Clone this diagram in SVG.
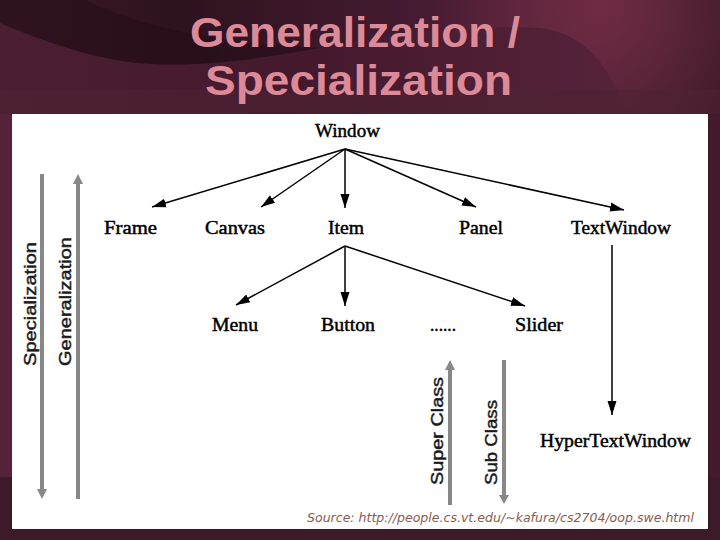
<svg xmlns="http://www.w3.org/2000/svg" width="720" height="540" viewBox="0 0 720 540">
<style>
.n{font-family:"Liberation Serif",serif;font-size:18px;fill:#000;stroke:#000;stroke-width:.45px}
.s{font-family:"Liberation Sans",sans-serif;font-size:17px;fill:#1a1a1a;stroke:#1a1a1a;stroke-width:.45px}
.t{font-family:"Liberation Sans",sans-serif;font-size:42px;font-weight:bold;fill:#dc8a97}
.a{stroke:#000;fill:none;stroke-width:1.5;marker-end:url(#b)}
.g{stroke:#888;stroke-width:4;fill:none}
</style>
<defs>
<marker id="b" markerUnits="userSpaceOnUse" markerWidth="16" markerHeight="12" refX="14" refY="5" orient="auto"><path d="M0 .5L14 5L0 9.5Z" fill="#000"/></marker>
<linearGradient id="bg" x1="0" y1="0" x2="1" y2="0"><stop offset="0" stop-color="#3a1826"/><stop offset=".25" stop-color="#2e121f"/><stop offset=".75" stop-color="#50203a"/><stop offset="1" stop-color="#3c1828"/></linearGradient>
<linearGradient id="sw" x1="0" y1="0" x2="1" y2="0"><stop offset="0" stop-color="#4a1f33"/><stop offset=".5" stop-color="#44192e"/><stop offset="1" stop-color="#57233b"/></linearGradient>
<radialGradient id="glow" cx="600" cy="10" r="170" gradientUnits="userSpaceOnUse"><stop offset="0" stop-color="#6f2c44"/><stop offset="1" stop-color="#6f2c44" stop-opacity="0"/></radialGradient>
</defs>
<rect width="720" height="540" fill="url(#bg)"/>
<rect width="720" height="130" fill="url(#glow)"/>
<path d="M0 23C40 40 90 58 138 63C200 68 250 60 320 48C400 32 470 25 541 28C592 35 620 75 640 160L0 160Z" fill="url(#sw)"/>
<path d="M0 23C40 40 90 58 138 63C200 68 250 60 320 48C260 44 170 40 85 0L0 0Z" fill="#1e0a13" opacity=".35"/>
<rect y="90" width="720" height="24" fill="#4f2233" opacity=".55"/>
<rect y="114" width="720" height="426" fill="#3c1a2a"/>
<rect y="114" width="12" height="363" fill="#56233c"/>
<rect x="708" y="114" width="12" height="363" fill="#43192c"/>
<rect x="12" y="114" width="696" height="415" fill="#fff"/>
<g id="title"><text class="t" x="190" y="47" textLength="330" lengthAdjust="spacingAndGlyphs">Generalization /</text><text class="t" x="205" y="95" textLength="307" lengthAdjust="spacingAndGlyphs">Specialization</text></g>
<g id="connectors">
<path class="a" d="M345 149L152 207"/>
<path class="a" d="M345 149L261 207"/>
<path class="a" d="M345 149V208"/>
<path class="a" d="M345 149L476 207"/>
<path class="a" d="M345 149L624 210"/>
<path class="a" d="M345 246L236 305"/>
<path class="a" d="M345 246V306"/>
<path class="a" d="M345 246L525 306"/>
<path class="a" d="M612 245V415"/>
</g>
<g id="gen-arrows">
<path class="g" d="M42 174V490"/><path d="M37 489H47L42 499Z" fill="#888"/>
<path class="g" d="M78 184V499"/><path d="M73 184H83L78 174Z" fill="#888"/>
<path class="g" d="M450 370V505"/><path d="M445 370H455L450 360Z" fill="#888"/>
<path class="g" d="M504 360V496"/><path d="M499 495H509L504 504Z" fill="#888"/>
</g>
<g id="window"><text class="n" x="315" y="137" textLength="65" lengthAdjust="spacingAndGlyphs">Window</text></g>
<g id="frame"><text class="n" x="104" y="234" textLength="53" lengthAdjust="spacingAndGlyphs">Frame</text></g>
<g id="canvas"><text class="n" x="205" y="234" textLength="60" lengthAdjust="spacingAndGlyphs">Canvas</text></g>
<g id="item"><text class="n" x="328" y="234" textLength="36" lengthAdjust="spacingAndGlyphs">Item</text></g>
<g id="panel"><text class="n" x="459" y="234" textLength="44" lengthAdjust="spacingAndGlyphs">Panel</text></g>
<g id="textwindow"><text class="n" x="571" y="234" textLength="100" lengthAdjust="spacingAndGlyphs">TextWindow</text></g>
<g id="menu"><text class="n" x="212" y="331" textLength="46" lengthAdjust="spacingAndGlyphs">Menu</text></g>
<g id="button"><text class="n" x="321" y="331" textLength="54" lengthAdjust="spacingAndGlyphs">Button</text></g>
<g id="dots"><text class="n" x="430" y="331" textLength="26" lengthAdjust="spacingAndGlyphs">......</text></g>
<g id="slider"><text class="n" x="515" y="331" textLength="48" lengthAdjust="spacingAndGlyphs">Slider</text></g>
<g id="hypertextwindow"><text class="n" x="540" y="447" textLength="151" lengthAdjust="spacingAndGlyphs">HyperTextWindow</text></g>
<g id="side-labels">
<text class="s" transform="translate(36 366) rotate(-90)" textLength="124" lengthAdjust="spacingAndGlyphs">Specialization</text>
<text class="s" transform="translate(71 366) rotate(-90)" textLength="129" lengthAdjust="spacingAndGlyphs">Generalization</text>
<text class="s" transform="translate(443 485) rotate(-90)" textLength="108" lengthAdjust="spacingAndGlyphs">Super Class</text>
<text class="s" transform="translate(497 485) rotate(-90)" textLength="85" lengthAdjust="spacingAndGlyphs">Sub Class</text>
</g>
<text x="307" y="522" font-family="DejaVu Sans, sans-serif" font-style="italic" font-size="11.5" fill="#8a5a50" textLength="387" lengthAdjust="spacingAndGlyphs">Source: http://people.cs.vt.edu/~kafura/cs2704/oop.swe.html</text>
</svg>
